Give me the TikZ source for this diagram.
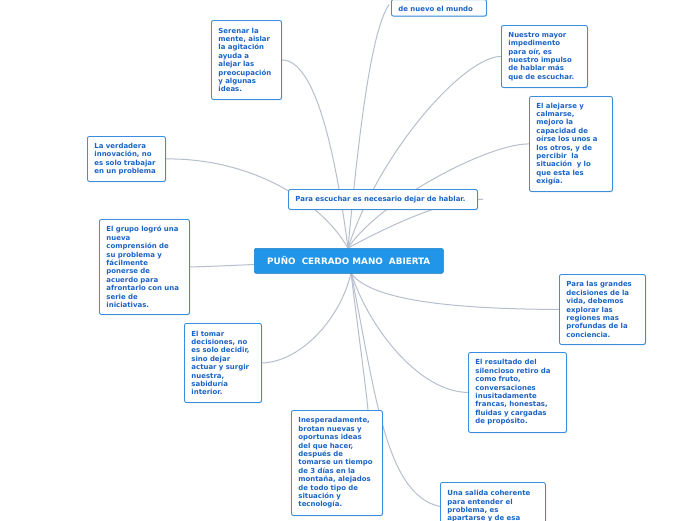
\documentclass[tikz,border=0pt]{standalone}
\usepackage{fontspec}
\setmainfont{DejaVu Sans}
\usetikzlibrary{shadows,calc}
\pgfdeclarelayer{background}
\pgfdeclarelayer{canvas}
\pgfsetlayers{canvas,background,main}
\definecolor{txtblue}{HTML}{1A63C6}
\definecolor{brdblue}{HTML}{3A8EE0}
\definecolor{hubblue}{HTML}{2196E8}
\definecolor{lnk}{HTML}{B8BFCC}
\tikzset{
  idea/.style={draw=brdblue, line width=0.9pt, fill=white, rounded corners=2pt,
    anchor=north west, align=left, inner xsep=7pt, inner ysep=4pt,
    font=\fontsize{6.95}{8.4}\selectfont\bfseries, text=txtblue,
    drop shadow={opacity=0.25, shadow xshift=0.8pt, shadow yshift=-0.8pt}},
  hub/.style={fill=hubblue, draw=hubblue!85!black, line width=0.5pt, rounded corners=1.5pt,
    anchor=north west, font=\fontsize{8.8}{9}\selectfont\bfseries, text=white,
    drop shadow={opacity=0.25, shadow xshift=0.8pt, shadow yshift=-0.8pt}},
  link/.style={draw=lnk, line width=1pt}
}
\begin{document}
\begin{tikzpicture}[x=1pt,y=-1pt]
\useasboundingbox (0,0) rectangle (696,520);
\begin{pgfonlayer}{canvas}
\fill[white] (0,0) rectangle (696,520);
\end{pgfonlayer}

\node[hub, minimum width=189, minimum height=25] (c) at (254,248) {PUÑO\ \ CERRADO MANO\ \ ABIERTA};

\node[idea, minimum width=95, text width=81, anchor=south west] (top) at (391,16.5) {~\\de nuevo el mundo};
\node[idea, minimum width=70, minimum height=79, text width=56] (ser) at (211,20) {Serenar la\\mente, aislar\\la agitación\\ayuda a\\alejar las\\preocupación\\y algunas\\ideas.};
\node[idea, minimum width=86, minimum height=62, text width=72] (nue) at (501,25) {Nuestro mayor\\impedimento\\para oír, es\\nuestro impulso\\de hablar más\\que de escuchar.};
\node[idea, minimum width=83, minimum height=95, text width=69] (ale) at (529,96) {El alejarse y\\calmarse,\\mejoro la\\capacidad de\\oírse los unos a\\los otros, y de\\percibir\ \ la\\situación\ \ y lo\\que esta les\\exigía.};
\node[idea, minimum width=78, minimum height=45, text width=64] (ver) at (87,136) {La verdadera\\innovación, no\\es solo trabajar\\en un problema};
\node[idea, minimum width=189, minimum height=20, text width=175] (par) at (288,189) {Para escuchar es necesario dejar de hablar.};
\node[idea, minimum width=90, minimum height=95, text width=76] (gru) at (99,219) {El grupo logró una\\nueva\\comprensión de\\su problema y\\fácilmente\\ponerse de\\acuerdo para\\afrontarlo con una\\serie de\\iniciativas.};
\node[idea, minimum width=77, minimum height=79, text width=63] (tom) at (184,323) {El tomar\\decisiones, no\\es solo decidir,\\sino dejar\\actuar y surgir\\nuestra,\\sabiduría\\interior.};
\node[idea, minimum width=86, minimum height=70, text width=72] (gra) at (559,274) {Para las grandes\\decisiones de la\\vida, debemos\\explorar las\\regiones mas\\profundas de la\\conciencia.};
\node[idea, minimum width=98, minimum height=80, text width=84] (res) at (468,352) {El resultado del\\silencioso retiro da\\como fruto,\\conversaciones\\inusitadamente\\francas, honestas,\\fluidas y cargadas\\de propósito.};
\node[idea, minimum width=91, minimum height=105, text width=77] (ine) at (291,410) {Inesperadamente,\\brotan nuevas y\\oportunas ideas\\del que hacer,\\después de\\tomarse un tiempo\\de 3 días en la\\montaña, alejados\\de todo tipo de\\situación y\\tecnología.};
\node[idea, minimum width=105, minimum height=48, text width=91] (sal) at (440,482) {Una salida coherente\\para entender el\\problema, es\\apartarse y de esa};

\coordinate (ht) at (348,248);
\coordinate (hb) at (351,273);

\begin{pgfonlayer}{background}
\draw[link] (ht) .. controls (360,120) and (372,30) .. ($(top.south west)+(-2,-12)$);
\draw[link] (ht) .. controls (335,150) and (315,60) .. (ser.east);
\draw[link] (ht) .. controls (380,150) and (465,56) .. (nue.west);
\draw[link] (ht) .. controls (380,200) and (490,143) .. (ale.west);
\draw[link] (ht) .. controls (320,200) and (250,158) .. (ver.east);
\draw[link] (ht) .. controls (400,220) and (450,199) .. ($(par.east)+(5,0)$);
\draw[link] (gru.east) .. controls (230,266) and (300,262) .. (c.center);
\draw[link] (hb) .. controls (340,320) and (300,362) .. (tom.east);
\draw[link] (hb) .. controls (370,300) and (450,309) .. (gra.west);
\draw[link] (hb) .. controls (370,330) and (420,392) .. (res.west);
\draw[link] (hb) .. controls (358,330) and (365,380) .. ($(ine.north west)+(77,0)$);
\draw[link] (hb) .. controls (375,390) and (385,495) .. (sal.west);
\end{pgfonlayer}
\end{tikzpicture}
\end{document}
